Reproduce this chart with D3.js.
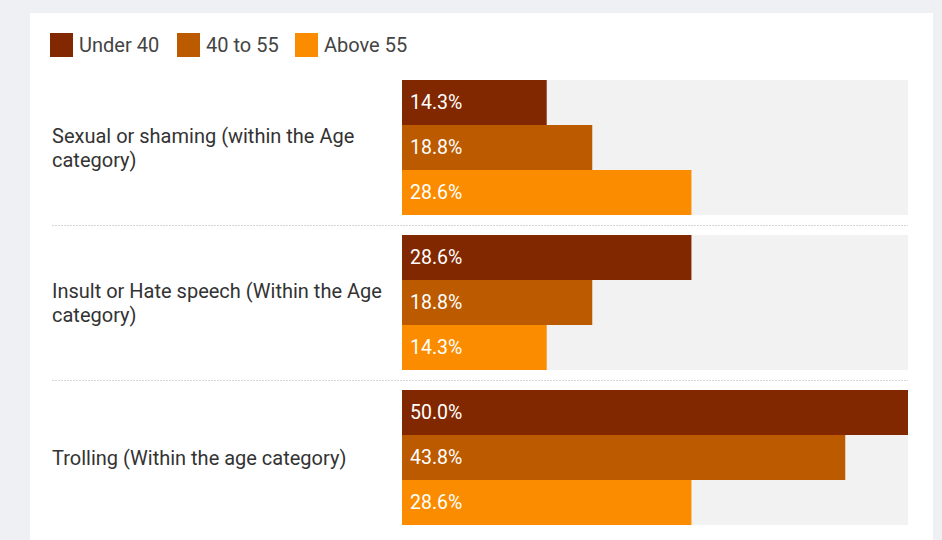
<!DOCTYPE html>
<html>
<head>
<meta charset="utf-8">
<script src="https://cdn.jsdelivr.net/npm/d3@7"></script>
<style>
  body { margin: 0; background: #eef0f3; }
  svg { display: block; font-family: Roboto, "Noto Sans", sans-serif; }
</style>
</head>
<body>
<div id="chart"></div>
<script>
const categories = [
  "Sexual or shaming (within the Age category)",
  "Insult or Hate speech (Within the Age category)",
  "Trolling (Within the age category)"
];
const seriesNames = ["Under 40", "40 to 55", "Above 55"];
const under40 = [14.3, 28.6, 50.0];
const from40to55 = [18.8, 18.8, 43.8];
const above55 = [28.6, 14.3, 28.6];
const colors = ["#822800", "#bc5a00", "#fb8c00"];

const seriesValues = [under40, from40to55, above55];
const width = 942, height = 540;

const svg = d3.select("#chart").append("svg")
  .attr("width", width)
  .attr("height", height);

// white card
svg.append("rect")
  .attr("x", 30).attr("y", 13)
  .attr("width", 903).attr("height", height)
  .attr("fill", "#fff");

const x = d3.scaleLinear().domain([0, 50]).range([402, 908]);

const y = d3.scaleBand()
  .domain(categories)
  .range([80, 525])
  .paddingInner(20 / 155);

const yInner = d3.scaleBand()
  .domain(seriesNames)
  .range([0, y.bandwidth()]);

// legend
const legend = svg.append("g").attr("transform", "translate(50,33)");
const legendX = [0, 127, 245];
seriesNames.forEach((name, i) => {
  const g = legend.append("g").attr("transform", `translate(${legendX[i]},0)`);
  g.append("rect").attr("width", 23).attr("height", 24).attr("fill", colors[i]);
  g.append("text")
    .attr("x", 29).attr("y", 12).attr("dy", "0.35em")
    .attr("font-size", 20).attr("fill", "#444")
    .text(name);
});

// separators
categories.slice(1).forEach(c => {
  const yy = Math.round(y(c) - (y.step() - y.bandwidth()) / 2) + 0.5;
  svg.append("line")
    .attr("x1", 52).attr("x2", 908)
    .attr("y1", yy).attr("y2", yy)
    .attr("stroke", "#d6d6d6")
    .attr("stroke-dasharray", "2,1");
});

const groups = svg.selectAll("g.group")
  .data(categories)
  .join("g")
  .attr("class", "group")
  .attr("transform", d => `translate(0,${y(d)})`);

// track
groups.append("rect")
  .attr("x", x(0)).attr("width", x(50) - x(0))
  .attr("height", y.bandwidth())
  .attr("fill", "#f2f2f2");

groups.each(function(cat, ci) {
  const g = d3.select(this);
  seriesNames.forEach((s, si) => {
    const v = seriesValues[si][ci];
    g.append("rect")
      .attr("x", x(0))
      .attr("y", yInner(s))
      .attr("width", x(v) - x(0))
      .attr("height", yInner.bandwidth())
      .attr("fill", colors[si]);
    g.append("text")
      .attr("x", x(0) + 8)
      .attr("y", yInner(s) + yInner.bandwidth() / 2)
      .attr("dy", "0.35em")
      .attr("font-size", 19.5)
      .attr("fill", "#fff")
      .text(v.toFixed(1) + "%");
  });

  // category label with wrapping
  const label = g.append("text")
    .attr("x", 52)
    .attr("font-size", 20)
    .attr("fill", "#333");
  const words = cat.split(" ");
  const lines = [];
  let line = [];
  const tmp = label.append("tspan");
  words.forEach(w => {
    line.push(w);
    tmp.text(line.join(" "));
    if (tmp.node().getComputedTextLength() > 345 && line.length > 1) {
      line.pop();
      lines.push(line.join(" "));
      line = [w];
    }
  });
  lines.push(line.join(" "));
  tmp.remove();
  const lh = 24;
  const cy = y.bandwidth() / 2;
  lines.forEach((t, i) => {
    label.append("tspan")
      .attr("x", 52)
      .attr("y", cy + (i - (lines.length - 1) / 2) * lh)
      .attr("dy", "0.35em")
      .text(t);
  });
});
</script>
</body>
</html>
